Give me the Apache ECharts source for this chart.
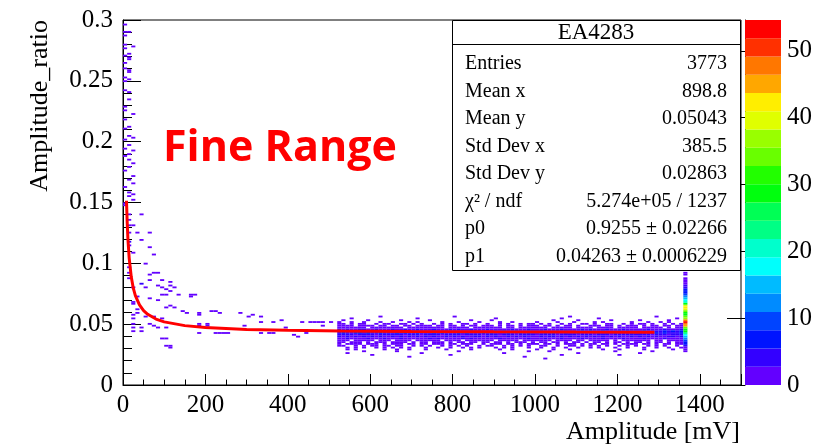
<!DOCTYPE html>
<html>
<head>
<meta charset="utf-8">
<script src="https://cdn.jsdelivr.net/npm/echarts@6/dist/echarts.min.js"></script>
<style>
  html, body { margin: 0; padding: 0; background: #fff; }
  #chart { width: 818px; height: 445px; }
</style>
</head>
<body>
<div id="chart"></div>
<script>
// ---- Histogram binning ----
const binWidthX = 10;        // mV per x bin
const binWidthY = 0.0015;    // ratio per y bin
const zMax = 54.6;           // top of the colour scale
const zTicks = [0, 10, 20, 30, 40, 50];

// ---- Sparse cells below the main band: [xBin, yBin, entries] ----
const tailCells = [
  [0,197,1],[0,193,1],[1,193,1],[0,191,1],[0,186,1],[2,185,1],[0,184,1],[1,181,1],[0,180,1],
  [1,179,2],[1,178,1],[0,176,1],[0,173,2],[1,172,1],[1,171,1],[0,168,1],[1,167,1],[0,166,1],
  [0,161,1],[1,160,1],[1,156,1],[0,152,1],[0,150,1],[2,148,1],[0,145,1],[1,141,1],[0,140,1],
  [1,136,1],[2,135,1],[0,134,1],[1,131,1],[0,129,1],[2,128,1],[1,126,1],[0,125,1],[1,123,1],
  [2,121,1],[1,119,1],[0,117,2],[2,114,1],[1,112,1],[2,110,1],[0,108,1],[1,105,1],[2,104,1],
  [1,103,1],[2,101,1],[0,98,1],
  [0,99,2],[1,93,1],[4,93,1],[1,90,1],[1,87,1],[2,87,1],[6,83,1],[3,83,1],[1,83,2],[4,79,1],
  [1,78,3],[1,76,2],[6,75,1],[2,72,1],[7,71,1],[5,66,1],[1,64,2],[7,61,1],[8,61,1],[1,61,2],
  [6,60,1],[1,58,2],[4,55,4],[6,57,1],[9,57,1],[11,56,1],[8,54,2],[11,54,1],[5,53,1],[9,53,1],
  [12,53,1],[2,53,2],[10,52,1],[11,51,1],[10,49,1],[13,49,1],[16,49,1],[17,49,1],[9,49,1],
  [16,48,1],[3,48,2],[8,46,1],[6,47,1],[2,45,1],[2,44,2],[11,43,1],[10,42,1],[12,42,1],
  [3,41,1],[14,40,1],[15,39,1],[18,39,1],[21,40,1],[22,40,1],[23,39,1],[3,39,1],[2,38,2],
  [18,38,1],[5,37,1],[7,37,1],[9,36,1],[2,36,1],[6,33,2],[7,32,1],[8,31,1],[10,31,1],[2,31,1],
  [18,32,1],[20,32,1],[18,33,1],[20,33,1],[2,33,1],[4,31,2],[2,29,1],[18,28,1],[22,28,1],
  [23,28,1],[24,28,1],[25,28,1],[4,29,1],[10,25,1],[9,25,1],[10,21,1],[11,21,1],[11,20,1],
  [28,39,1],[30,37,1],[31,38,1],[33,37,1],[33,34,1],[36,34,1],[38,35,1],[39,31,1],[43,34,1],
  [45,34,1],[46,34,1],[47,34,1],[48,32,1],[50,34,1],[29,32,1],[33,28,1],[35,28,1],[36,28,1],
  [41,27,1],[42,26,1],[44,28,1],[48,34,1]
];

// ---- Dense band, x bins 52..135, one string per y bin from yBin 37 down to 14 ----
// '.' = empty, digits = entries in the bin
const bandFirstXBin = 52;
const bandTopYBin = 37;
const bandRows = [
  "..........1. ............ ....1....... ............ ........1... ............ .....1......",
  "...1........ .......1.... ............ ..1......... ......1..... ...1........ ..........1.",
  ".1.....1.... ...1......1. ........1... .1.......... ....1.....1. ......1..... .1......1...",
  "1..1..1...1. .1...1.1.... .1...1....1. ...1..1..... 1....1...1.. ..1.1......1 ...1..1.1...",
  "11.1.11..1.1 1..11.1.1..1 .1.1..11.1.. 1..1.1..1.11 .1.1..1.1..1 1.1..11..1.1 .11.1..1.1.1",
  "1211.1112.11 .21.11.1121. 11.12.1.11.1 21.1.11.2.11 1.11.1.21.1. .121.11.1.12 1.1.21.11.21",
  "2121121.2112 1212.2121121 21.12112.121 1121.21.2112 211.12121.12 12.1212.1211 2.12112.1.12",
  "323213322312 231232132213 122313213221 312221321232 213212312213 132213221312 221321231223",
  "686457465354 645546374546 456465547365 546374565464 365546475456 564365456374 456545364657",
  "575468564465 456574465547 564457465546 465547456574 546465574465 455647465456 564456475546",
  "435324434253 343524342435 324435243342 434253324435 243342435324 352434243353 434325342434",
  "324232323142 232413232324 213242312432 324213242321 232431323242 314232423213 232324213423",
  "213121232113 121322121231 312121313212 121312212131 213121321213 121231212312 213121231212",
  "121.12121.12 2.1211.21211 1.1212.11211 21.11212.121 1121.1211.21 .12112.1.121 1211.21.1121",
  "11.121.1.211 .1211.1.12.1 21.1.12.11.1 1.21.1.121.1 .11.21.1.12. 1.12.1.21.1. 11.1.12.1.21",
  "1.1211.121.1 .121.21.11.1 11.11.121..2 .121.11.1.11 1.11.1.121.1 .11.21.1.111 1.12.1.11.11",
  "11..1.1.11.1 1.11..1.1.1. .1.1.1.1..1. 11..1.1.1.1. .11..1..11.1 .1.1.1..1.1. 1..1.1.1..1.",
  "..1.1.1..1.1 .1.1.1...1.. 1..1..1.1.1. ..1.1.1...1. .1..1..1..1. .1.1...1..1. ..1..1..1..1",
  "..1.1......1 ..1..1...1.. ..1.....1... ...1..1..... 1...1...1... ....1...1... ..1......1..",
  "......1..... ..1......... .....1...... ..........1. ...1........ .......1.... ....1.......",
  "..1......... ........1... ............ ....1....... ..........1. ............ .1..........",
  "........1... ............ ...1........ ............ ......1..... ........1... ............",
  "............ .....1...... ............ .........1.. ............ ............ ............",
  "............ ............ ............ ............ ..1......... ............ ............"
];

// ---- Saturated column at the end of the range (x bin 136), yBin 18 upward ----
const edgeColumnXBin = 136;
const edgeColumnFirstYBin = 18;
const edgeColumnCounts = [1,2,2,3,6,7,9,11,16,19,24,28,30,34,44,49,52,47,38,33,29,30,33,39,42,40,29,21,18,15,12,9,8,7,6,4,3,2,2,1,1,0,1,1];

// ---- Fit p0/x + p1, sampled points ----
const fitX = [8.5, 10, 12, 15, 20, 25, 30, 40, 50, 60, 80, 100, 150, 200, 300, 400, 530, 700, 900, 1100, 1290];
const fitY = [0.1515, 0.1352, 0.1197, 0.1043, 0.0889, 0.0796, 0.0735, 0.0658, 0.0611, 0.0581, 0.0542, 0.0519, 0.0488, 0.0473, 0.0457, 0.0450, 0.0444, 0.0440, 0.0437, 0.0435, 0.0434];

// ---- Statistics box ----
const statTitle = "EA4283";
const statLabels = ["Entries", "Mean x", "Mean y", "Std Dev x", "Std Dev y", "χ² / ndf", "p0", "p1"];
const statValues = ["3773", "898.8", "0.05043", "385.5", "0.02863", "5.274e+05 / 1237", "0.9255 ± 0.02266", "0.04263 ± 0.0006229"];

// ---- Colour palette: 20 contour levels, violet to red ----
const palette = ["#6300ff","#3300ff","#0014ff","#0044ff","#008bff","#00bbff","#00fffc","#00ffcc","#00ff85","#00ff55",
                 "#00ff0e","#22ff00","#69ff00","#99ff00","#e0ff00","#ffee00","#ffa700","#ff7700","#ff3000","#ff0000"];

// Build cell list
const cells = tailCells.slice();
bandRows.forEach((row, r) => {
  const yBin = bandTopYBin - r;
  const s = row.replace(/ /g, '');
  for (let c = 0; c < s.length; c++) {
    if (s[c] === '.') continue;
    cells.push([bandFirstXBin + c, yBin, parseInt(s[c], 36)]);
  }
});
edgeColumnCounts.forEach((n, i) => {
  if (n > 0) cells.push([edgeColumnXBin, edgeColumnFirstYBin + i, n]);
});

const nLevels = palette.length;
function colorOf(n) {
  const k = Math.min(nLevels - 1, Math.floor(n / (zMax / nLevels)));
  return palette[k];
}
const zBands = palette.map((c, k) => [k * zMax / nLevels, (k + 1) * zMax / nLevels, k]);

const serif = "'Liberation Serif', 'Times New Roman', serif";
const black = '#000';

const gridRect = { left: 123, top: 20, width: 618, height: 365 };

const chart = echarts.init(document.getElementById('chart'));
chart.setOption({
  animation: false,
  backgroundColor: '#fff',
  grid: [
    Object.assign({ show: true, borderColor: black, borderWidth: 1, backgroundColor: 'transparent' }, gridRect),
    Object.assign({ show: false }, gridRect),
    { left: 745, top: 20, width: 36, height: 365 }
  ],
  xAxis: [
    {
      gridIndex: 0, type: 'value', min: 0, max: 1500, interval: 200,
      axisLine: { show: true, onZero: false, lineStyle: { color: black, width: 1 } },
      axisTick: { show: true, inside: true, length: 11, lineStyle: { color: black } },
      axisLabel: { color: black, fontFamily: serif, fontSize: 25, margin: 8,
        formatter: v => (v % 200 === 0 ? String(v) : '') },
      splitLine: { show: false }
    },
    {
      gridIndex: 1, type: 'value', min: 0, max: 1500, interval: 50,
      axisLine: { show: false },
      axisTick: { show: true, inside: true, length: 5.5, lineStyle: { color: black } },
      axisLabel: { show: false },
      splitLine: { show: false }
    },
    { gridIndex: 2, type: 'value', min: 0, max: 1, show: false }
  ],
  yAxis: [
    {
      gridIndex: 0, type: 'value', min: 0, max: 0.3, interval: 0.05,
      axisLine: { show: true, onZero: false, lineStyle: { color: black, width: 1 } },
      axisTick: { show: true, inside: true, length: 18, lineStyle: { color: black } },
      minorTick: { show: true, splitNumber: 5, length: 9, lineStyle: { color: black } },
      axisLabel: { color: black, fontFamily: serif, fontSize: 25, margin: 10,
        formatter: v => String(+v.toFixed(2)) },
      splitLine: { show: false }
    },
    { gridIndex: 1, type: 'value', min: 0, max: 0.3, show: false },
    {
      gridIndex: 2, type: 'value', min: 0, max: zMax, position: 'right',
      axisLine: { show: true, lineStyle: { color: black, width: 1 } },
      axisTick: { show: true, inside: true, length: 18, customValues: zTicks, lineStyle: { color: black } },
      axisLabel: { color: black, fontFamily: serif, fontSize: 25, margin: 6, customValues: zTicks },
      splitLine: { show: false }
    }
  ],
  series: [
    {
      type: 'custom', xAxisIndex: 0, yAxisIndex: 0, clip: true, silent: true,
      data: cells,
      renderItem: (params, api) => {
        const x0 = api.value(0) * binWidthX;
        const y0 = api.value(1) * binWidthY;
        const p = api.coord([x0, y0 + binWidthY]);
        const s = api.size([binWidthX, binWidthY]);
        return { type: 'rect', shape: { x: p[0], y: p[1], width: s[0], height: s[1] },
                 style: { fill: colorOf(api.value(2)) } };
      }
    },
    {
      type: 'line', xAxisIndex: 0, yAxisIndex: 0, silent: true,
      data: fitX.map((x, i) => [x, fitY[i]]),
      showSymbol: false, smooth: false,
      lineStyle: { color: '#ff0000', width: 3 }
    },
    {
      type: 'custom', xAxisIndex: 2, yAxisIndex: 2, silent: true,
      data: zBands,
      renderItem: (params, api) => {
        const top = api.coord([0, api.value(1)]);
        const bot = api.coord([1, api.value(0)]);
        return { type: 'rect', shape: { x: top[0], y: top[1], width: bot[0] - top[0], height: bot[1] - top[1] },
                 style: { fill: palette[api.value(2)] } };
      }
    }
  ],
  graphic: [
    { type: 'rect', z: 100, shape: { x: 452.5, y: 20.5, width: 288, height: 250 },
      style: { fill: '#fff', stroke: black, lineWidth: 1 } },
    { type: 'line', z: 101, shape: { x1: 452.5, y1: 44.5, x2: 740.5, y2: 44.5 },
      style: { stroke: black, lineWidth: 1 } },
    { type: 'text', z: 101, x: 596, y: 33,
      style: { text: statTitle, fill: black, font: `23px ${serif}`, align: 'center', verticalAlign: 'middle' } },
    ...statLabels.map((t, i) => ({ type: 'text', z: 101, x: 465, y: 64 + i * 27.5,
      style: { text: t, fill: black, font: `20px ${serif}`, align: 'left', verticalAlign: 'middle' } })),
    ...statValues.map((t, i) => ({ type: 'text', z: 101, x: 727, y: 64 + i * 27.5,
      style: { text: t, fill: black, font: `20px ${serif}`, align: 'right', verticalAlign: 'middle' } })),
    { type: 'text', z: 101, x: 163, y: 127,
      style: { text: 'Fine Range', fill: '#ff0000', font: `bold 43px 'Open Sans', sans-serif`,
               align: 'left', verticalAlign: 'top' } },
    { type: 'text', z: 101, x: 740, y: 432,
      style: { text: 'Amplitude [mV]', fill: black, font: `26px ${serif}`, align: 'right', verticalAlign: 'middle' } },
    { type: 'text', z: 101, x: 27, y: 20, rotation: Math.PI / 2,
      style: { text: 'Amplitude_ratio', fill: black, font: `26px ${serif}`, align: 'right', verticalAlign: 'top' } }
  ]
});
</script>
</body>
</html>
